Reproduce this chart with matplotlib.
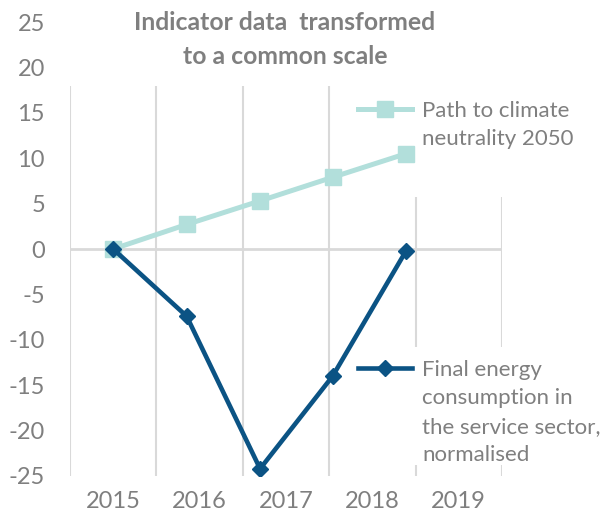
import numpy as np
import matplotlib
matplotlib.use("Agg")
import matplotlib.pyplot as plt

# Data
years = ["2015", "2016", "2017", "2018", "2019"]
# the points sit a little off the category centres in the original
x_pos = [0.0, 0.85, 1.70, 2.54, 3.39]
path_neutrality = [0.0, 2.7, 5.3, 7.9, 10.5]
final_energy = [0.0, -7.4, -24.2, -14.0, -0.2]

label_path = "Path to climate\nneutrality 2050"
label_energy = "Final energy\nconsumption in\nthe service sector,\nnormalised"
title = "Indicator data  transformed\nto a common scale"

c_path = "#b2dfdb"
c_energy = "#0b5384"
c_text = "#7f7f7f"
c_grid = "#d9d9d9"

plt.rcParams["font.family"] = ["Lato", "DejaVu Sans"]
plt.rcParams["axes.unicode_minus"] = False

fig = plt.figure(figsize=(6.01, 5.14), dpi=100)
ax = fig.add_axes([70 / 601, 38 / 514, 432 / 601, 454 / 514])

# Vertical gridlines between categories (gaps where legends sit)
bounds = np.arange(-0.5, 5, 1.0)
ax.vlines(bounds[:4], -25, 18.0, color=c_grid, lw=1.5, zorder=1)
for b in bounds[4:]:
    ax.vlines([b, b], [-25, -10.8], [-23.8, 5.7], color=c_grid, lw=1.5, zorder=1)
ax.axhline(0, color=c_grid, lw=2, zorder=1)

# Series
l1, = ax.plot(x_pos, path_neutrality, color=c_path, lw=3.6, marker="s",
              ms=12, zorder=3, label=label_path)
l2, = ax.plot(x_pos, final_energy, color=c_energy, lw=3.3, marker="D",
              ms=8.5, zorder=4, label=label_energy)

ax.set_xlim(-0.5, 4.5)
ax.set_ylim(-25, 25)
ax.set_yticks(np.arange(-25, 26, 5))
ax.set_xticks(range(len(years)))
ax.set_xticklabels(years)
ax.tick_params(axis="both", length=0, labelsize=17, colors=c_text)
ax.tick_params(axis="y", pad=18)
ax.tick_params(axis="x", pad=11)
for s in ax.spines.values():
    s.set_visible(False)


def side_legend(handle, top_px):
    leg = fig.legend(handles=[handle], loc="upper left",
                     bbox_to_anchor=(358 / 601, 1 - top_px / 514),
                     frameon=False, fontsize=16, labelcolor=c_text,
                     handlelength=2.45, handletextpad=0.45,
                     borderpad=0, borderaxespad=0, labelspacing=0)
    leg.get_texts()[0].set_linespacing(1.52)
    # put the key next to the first line of the label, as in the original
    for col in leg._legend_handle_box.get_children():
        for item in col.get_children():
            item.align = "top"
    return leg


side_legend(l1, 101)
side_legend(l2, 360)

fig.text(285 / 601, 1 - 39.5 / 514, title, ha="center", va="center",
         fontsize=17.8, fontweight="bold", color=c_text, linespacing=1.62)

fig.savefig("out.png", dpi=100)
